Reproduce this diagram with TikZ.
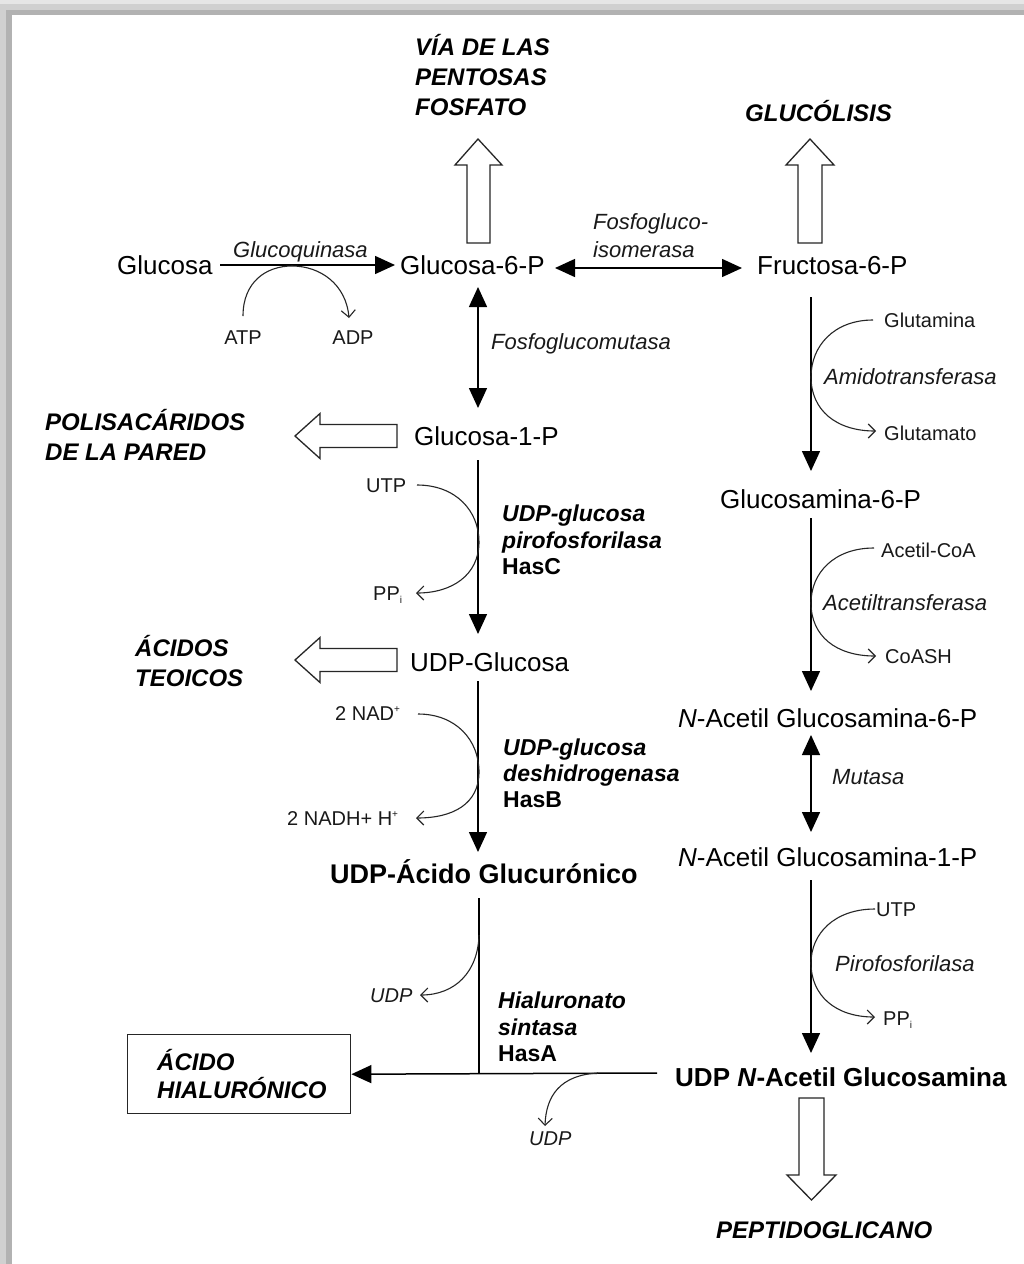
\documentclass[tikz,border=0pt]{standalone}
\usepackage{fontspec}
\setmainfont{Liberation Sans}
\usetikzlibrary{arrows.meta}
\definecolor{bA}{HTML}{E6E6E6}
\definecolor{bB}{HTML}{D0D0D0}
\definecolor{bC}{HTML}{B2B2B2}
\newcommand{\supp}[1]{\raisebox{0.75ex}{\fontsize{10}{10}\selectfont #1}}
\newcommand{\subb}[1]{\raisebox{-0.35ex}{\fontsize{10}{10}\selectfont #1}}
\begin{document}
\begin{tikzpicture}[x=1pt,y=-1pt,
 txt/.style={inner sep=0pt, anchor=base west, text=black},
 met/.style={txt, font=\fontsize{26}{30}\selectfont},
 bmet/.style={txt, font=\bfseries\fontsize{26}{30}\selectfont},
 enz/.style={txt, font=\itshape\fontsize{22}{26}\selectfont, text=black!90},
 benz/.style={txt, font=\bfseries\itshape\fontsize{23}{26}\selectfont},
 bgene/.style={txt, font=\bfseries\fontsize{23}{26}\selectfont},
 sml/.style={txt, font=\fontsize{20}{24}\selectfont, text=black!90},
 ismall/.style={txt, font=\itshape\fontsize{20}{24}\selectfont, text=black!90},
 capl/.style={txt, font=\bfseries\itshape\fontsize{24}{30}\selectfont},
 main/.style={line width=1.5pt, -{Triangle[width=18pt,length=20pt]}},
 dmain/.style={line width=1.5pt, {Triangle[width=18pt,length=20pt]}-{Triangle[width=18pt,length=20pt]}},
 plain/.style={line width=1.5pt},
 thinc/.style={line width=1.1pt, draw=black!85, -{Straight Barb[length=7pt,width=14pt]}},
 hollow/.style={draw=black!85, line width=1.3pt, fill=white, line join=miter},
]
\useasboundingbox (0,0) rectangle (1024,1264);
\fill[white] (0,0) rectangle (1024,1264);
% shadow frame
\fill[bA] (0,0) rectangle (1024,4);
\fill[bB] (0,4) rectangle (1024,10);
\fill[bC] (12,10) rectangle (1024,15);
\fill[bB] (0,4) rectangle (6,1264);
\fill[bC] (6,10) rectangle (12,1264);

% top labels
\node[capl] (via1) at (415,55.6) {VÍA DE LAS};
\node[capl] (via2) at (415,85.6) {PENTOSAS};
\node[capl] (via3) at (415,115.6) {FOSFATO};
\node[capl] (gluc) at (745,121.6) {GLUCÓLISIS};

% hollow arrows
\draw[hollow] (467,243) -- (467,165) -- (455,165) -- (478,139) -- (502,165) -- (490,165) -- (490,243) -- cycle;
\draw[hollow] (798,243) -- (798,165) -- (786,165) -- (810,139) -- (834,165) -- (822,165) -- (822,243) -- cycle;
\draw[hollow] (397,447.5) -- (320,447.5) -- (320,458.5) -- (295,436) -- (320,413.5) -- (320,424.5) -- (397,424.5) -- cycle;
\draw[hollow] (397,671.5) -- (320,671.5) -- (320,682.5) -- (295,660) -- (320,637.5) -- (320,648.5) -- (397,648.5) -- cycle;
\draw[hollow] (799,1098) -- (799,1175) -- (787,1175) -- (811.5,1200) -- (836,1175) -- (824,1175) -- (824,1098) -- cycle;

% row 1
\node[met] (glc) at (117,274.4) {Glucosa};
\node[enz] (gk) at (233,257.9) {Glucoquinasa};
\node[met] (g6p) at (400,274.4) {Glucosa-6-P};
\node[met] (f6p) at (757,274.4) {Fructosa-6-P};
\node[enz] (pgi1) at (593,229.9) {Fosfogluco-};
\node[enz] (pgi2) at (593,257.9) {isomerasa};
\node[sml, anchor=base] (atp) at (243,344) {ATP};
\node[sml, anchor=base] (adp) at (353,344) {ADP};

\coordinate (a1s) at (220,265);
\coordinate (a1e) at (395,265);
\draw[main] (a1s) -- (a1e);
\coordinate (a2s) at (555,268);
\coordinate (a2e) at (742,268);
\draw[dmain] (a2s) -- (a2e);
\coordinate (atpc) at (243,316);
\coordinate (adpc) at (349,318);
\draw[thinc] (atpc) .. controls (243,282) and (266,266) .. (292,266) .. controls (320,266) and (346,284) .. (adpc);

% left column
\node[enz] (pgm) at (491,349) {Fosfoglucomutasa};
\coordinate (b1s) at (478,287);
\coordinate (b1e) at (478,408);
\draw[dmain] (b1s) -- (b1e);

\node[capl] (pol1) at (45,430.6) {POLISACÁRIDOS};
\node[capl] (pol2) at (45,460.6) {DE LA PARED};
\node[met] (g1p) at (414,445.4) {Glucosa-1-P};

\coordinate (b2s) at (478,460);
\coordinate (b2e) at (478,634);
\draw[main] (b2s) -- (b2e);
\node[sml] (utp1) at (366,492.2) {UTP};
\node[sml] (ppi1) at (373,600.2) {PP\subb{i}};
\coordinate (utp1c) at (417,485);
\coordinate (ppi1c) at (416,593);
\draw[thinc] (utp1c) .. controls (456,485) and (479,511) .. (479,542) .. controls (479,575) and (452,593) .. (ppi1c);
\node[benz] (hc1) at (502,521.3) {UDP-glucosa};
\node[benz] (hc2) at (502,548.3) {pirofosforilasa};
\node[bgene] (hc3) at (502,574.3) {HasC};

\node[capl] (ac1) at (135,656.6) {ÁCIDOS};
\node[capl] (ac2) at (135,686.6) {TEOICOS};
\node[met] (udpg) at (410,671.4) {UDP-Glucosa};

\coordinate (b3s) at (478,681);
\coordinate (b3e) at (478,852);
\draw[main] (b3s) -- (b3e);
\node[sml] (nad) at (335,720.2) {2 NAD\supp{+}};
\node[sml] (nadh) at (287,825.2) {2 NADH+ H\supp{+}};
\coordinate (nadc) at (418,714);
\coordinate (nadhc) at (416,818);
\draw[thinc] (nadc) .. controls (456,714) and (479,740) .. (479,772) .. controls (479,804) and (453,818) .. (nadhc);
\node[benz] (hb1) at (503,755.3) {UDP-glucosa};
\node[benz] (hb2) at (503,781.3) {deshidrogenasa};
\node[bgene] (hb3) at (503,807.3) {HasB};

\node[bmet, font=\bfseries\fontsize{27}{30}\selectfont] (udpga) at (330,883.6) {UDP-Ácido Glucurónico};
\coordinate (b4s) at (479,898);
\coordinate (junc) at (479,1073);
\draw[plain] (b4s) -- (junc);
\node[ismall] (udp1) at (370,1002.2) {UDP};
\coordinate (udp1s) at (479,935);
\coordinate (udp1c) at (420,995);
\draw[thinc] (udp1s) .. controls (478,972) and (455,995) .. (udp1c);
\node[benz] (ha1) at (498,1008.3) {Hialuronato};
\node[benz] (ha2) at (498,1035.3) {sintasa};
\node[bgene] (ha3) at (498,1061.3) {HasA};

\node[draw=black!85, line width=1.4pt, anchor=north west, inner sep=0pt, minimum width=223pt, minimum height=79pt] (box) at (127,1034) {};
\node[capl] (hy1) at (157,1070.6) {ÁCIDO};
\node[capl] (hy2) at (157,1098.6) {HIALURÓNICO};
\coordinate (hs) at (657,1073);
\draw[main] (hs) -- (box.east);
\coordinate (udp2s) at (598,1073);
\coordinate (udp2c) at (545,1126);
\draw[thinc] (udp2s) .. controls (560,1075) and (546,1096) .. (udp2c);
\node[ismall] (udp2) at (529,1145.2) {UDP};

% right column
\coordinate (c1s) at (811,297);
\coordinate (c1e) at (811,471);
\draw[main] (c1s) -- (c1e);
\node[sml] (gln) at (884,327.2) {Glutamina};
\node[enz] (amt) at (824,384.9) {Amidotransferasa};
\node[sml] (glu) at (884,440.2) {Glutamato};
\coordinate (glnc) at (873,320);
\coordinate (gluc2) at (876,431);
\draw[thinc] (glnc) .. controls (834,320) and (811,346) .. (811,377) .. controls (811,410) and (836,431) .. (gluc2);

\node[met] (gn6p) at (720,508.4) {Glucosamina-6-P};
\coordinate (c2s) at (811,518);
\coordinate (c2e) at (811,691);
\draw[main] (c2s) -- (c2e);
\node[sml] (acoa) at (881,557.2) {Acetil-CoA};
\node[enz] (act) at (823,610.9) {Acetiltransferasa};
\node[sml] (coash) at (885,663.2) {CoASH};
\coordinate (acoac) at (874,548);
\coordinate (coashc) at (876,656);
\draw[thinc] (acoac) .. controls (834,548) and (811,573) .. (811,603) .. controls (811,636) and (836,656) .. (coashc);

\node[met] (na6p) at (678,727.4) {\textit{N}-Acetil Glucosamina-6-P};
\coordinate (c3s) at (811,735);
\coordinate (c3e) at (811,832);
\draw[dmain] (c3s) -- (c3e);
\node[enz] (mut) at (832,784.9) {Mutasa};
\node[met] (na1p) at (678,866.4) {\textit{N}-Acetil Glucosamina-1-P};

\coordinate (c4s) at (811,880);
\coordinate (c4e) at (811,1053);
\draw[main] (c4s) -- (c4e);
\node[sml] (utp2) at (876,916.2) {UTP};
\node[enz] (pir) at (835,971.9) {Pirofosforilasa};
\node[sml] (ppi2) at (883,1025.2) {PP\subb{i}};
\coordinate (utp2c) at (875,909);
\coordinate (ppi2c) at (875,1017);
\draw[thinc] (utp2c) .. controls (834,909) and (811,934) .. (811,963) .. controls (811,996) and (836,1017) .. (ppi2c);

\node[bmet] (udpna) at (675,1086.4) {UDP \textit{N}-Acetil Glucosamina};
\node[capl] (pep) at (716,1238.6) {PEPTIDOGLICANO};
\end{tikzpicture}
\end{document}
